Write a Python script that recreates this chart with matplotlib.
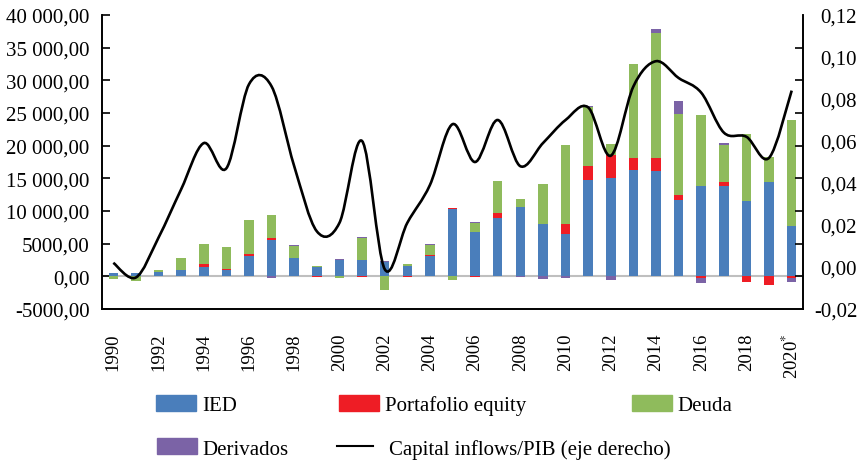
import numpy as np
import matplotlib
matplotlib.use("Agg")
import matplotlib.pyplot as plt
from matplotlib.path import Path
from matplotlib.patches import PathPatch, Patch
from matplotlib.lines import Line2D
from matplotlib.ticker import FuncFormatter, MultipleLocator, FixedLocator

plt.rcParams['font.family'] = ['Liberation Serif', 'DejaVu Serif']
plt.rcParams['mathtext.fontset'] = 'stix'

# data (USD millions / ratio)
years = list(range(1990, 2021))
ied = [500, 500, 700, 900, 1500, 900, 3100, 5500, 2850, 1500, 2450,
       2450, 2200, 1650, 3100, 10250, 6800, 8950, 10550, 8000, 6500,
       14700, 15050, 16300, 16150, 11750, 13800, 13850, 11550, 14400, 7700]
portafolio = [0, 0, 0, 0, 450, 250, 250, 350, 0, -100, 0,
              -150, 0, -100, 200, 200, -100, 750, 0, 0, 1450,
              2150, 3500, 1800, 1950, 650, -300, 550, -800, -1250, -300]
deuda = [-400, -650, 250, 1950, 3000, 3300, 5300, 3600, 1850, 100, -300,
         3450, -2150, 250, 1450, -550, 1350, 4850, 1250, 6100, 12200,
         9100, 1700, 14400, 19100, 12500, 10950, 5650, 10300, 3900, 16300]
derivados = [0, 0, 0, 0, 0, 0, 0, -300, 100, 0, 150,
             150, 150, 0, 200, 0, 100, 0, -150, -450, -300,
             100, -500, 0, 600, 1950, -700, 300, 0, 0, -500]
inflows_pib = [0.002, -0.005, 0.014, 0.037, 0.059, 0.047, 0.087, 0.086, 0.048, 0.017, 0.021,
               0.060, -0.001, 0.021, 0.039, 0.068, 0.050, 0.070, 0.048, 0.059, 0.070,
               0.076, 0.053, 0.086, 0.098, 0.090, 0.083, 0.064, 0.062, 0.052, 0.084]

labels = ["IED", "Portafolio equity", "Deuda", "Derivados"]
colors = ["#4A7EBB", "#EE1D25", "#8FBB5C", "#7B63A6"]
line_label = "Capital inflows/PIB (eje derecho)"

fig = plt.figure(figsize=(8.63, 4.64), dpi=100)
ax = fig.add_axes([102/863, 1 - 310/464, 701/863, 294/464])
ax2 = ax.twinx()

x = np.arange(len(years))
pos_base = np.zeros(len(years))
neg_base = np.zeros(len(years))
for vals, col in zip([ied, portafolio, deuda, derivados], colors):
    v = np.array(vals, dtype=float)
    bottom = np.where(v >= 0, pos_base, neg_base)
    ax.bar(x, v, width=0.42, bottom=bottom, color=col, zorder=2)
    pos_base += np.clip(v, 0, None)
    neg_base += np.clip(v, None, 0)

ax.axhline(0, color="#BFBFBF", lw=1.5, zorder=1)

ax.set_xlim(-0.5, len(years) - 0.5)
ax.set_ylim(-5000, 40000)
ax2.set_ylim(-0.02, 0.12)

# smoothed line (Excel-like bezier through the points)
pts = np.column_stack([x, inflows_pib]).astype(float)
n = len(pts)
verts = [pts[0]]
codes = [Path.MOVETO]
for i in range(n - 1):
    p0 = pts[max(i - 1, 0)]; p1 = pts[i]; p2 = pts[i + 1]; p3 = pts[min(i + 2, n - 1)]
    verts += [p1 + (p2 - p0) / 6, p2 - (p3 - p1) / 6, p2]
    codes += [Path.CURVE4] * 3
ax2.add_patch(PathPatch(Path(verts, codes), facecolor="none", edgecolor="black",
                        lw=1.9, transform=ax2.transData, zorder=3))

def fmt_left(v, pos):
    ip, dp = f"{abs(v):.2f}".split(".")
    if len(ip) > 4:
        ip = ip[:-3] + " " + ip[-3:]
    return ("-" if v < 0 else "") + ip + "," + dp

def fmt_right(v, pos):
    v = round(v, 4)
    return f"{v:.2f}".replace(".", ",") if v != 0 else "0,00"

ax.yaxis.set_major_locator(MultipleLocator(5000))
ax.yaxis.set_major_formatter(FuncFormatter(fmt_left))
ax.tick_params(axis="y", direction="in", length=6, width=1.2, labelsize=15, pad=9)

ax2.yaxis.set_major_locator(MultipleLocator(0.02))
ax2.yaxis.set_major_formatter(FuncFormatter(fmt_right))
left_ticks = np.arange(-5000, 40001, 5000)
ax2.yaxis.set_minor_locator(FixedLocator(-0.02 + (left_ticks + 5000) / 45000 * 0.14))
ax2.tick_params(axis="y", which="major", length=0, labelsize=15, pad=39)
ax2.tick_params(axis="y", which="minor", direction="in", length=6, width=1.2)
for t in ax2.get_yticklabels():
    t.set_horizontalalignment("right")

xt = x[::2]
xl = [str(y) for y in years[::2]]
xl[-1] = xl[-1] + r"$^{*}$"
ax.set_xticks(xt)
ax.set_xticklabels(xl, rotation=90, fontsize=13.5)
ax.tick_params(axis="x", length=0, pad=17)

for a in (ax, ax2):
    a.spines["top"].set_visible(False)
    for s in ("left", "right", "bottom"):
        a.spines[s].set_linewidth(1.2)

# legend laid out like the original (two rows)
entries = [
    (Patch(color=colors[0]), labels[0], 156, 406),
    (Patch(color=colors[1]), labels[1], 339, 406),
    (Patch(color=colors[2]), labels[2], 632, 406),
    (Patch(color=colors[3]), labels[3], 157, 449.5),
    (Line2D([], [], color="black", lw=1.5), line_label, 337, 449.5),
]
for h, lab, px, py in entries:
    fig.legend([h], [lab], loc="center left", bbox_to_anchor=(px / 863, 1 - py / 464),
               frameon=False, fontsize=15, borderpad=0, borderaxespad=0,
               handlelength=1.9 if isinstance(h, Patch) else 1.75,
               handleheight=0.77, handletextpad=0.3 if isinstance(h, Patch) else 0.75)

fig.savefig("out.png", dpi=100)
